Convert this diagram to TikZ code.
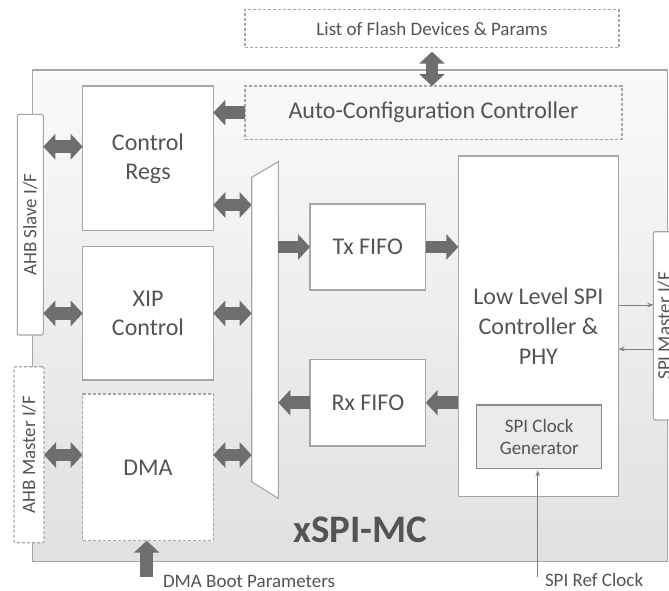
\documentclass[tikz,border=0pt]{standalone}
\usepackage{fontspec}
\setmainfont{Carlito}
\usetikzlibrary{arrows.meta,calc}
\definecolor{txt}{HTML}{545454}
\definecolor{edge}{HTML}{A6A6A6}
\definecolor{blkc}{HTML}{6E6E6E}
\definecolor{clkfill}{HTML}{EBEBEB}
\begin{document}
\begin{tikzpicture}[x=1pt,y=-1pt,
  every node/.style={inner sep=0pt, outer sep=0pt, text=txt},
  box/.style={draw=edge, fill=white, line width=1.1pt, minimum width=#1},
  dbox/.style={box=#1, dash pattern=on 3pt off 2pt},
  ifbox/.style={draw=edge, fill=white, line width=1.1pt, rounded corners=2pt, minimum width=#1},
  bigtxt/.style={font=\fontsize{24}{29}\selectfont, align=center},
  smalltxt/.style={font=\fontsize{19}{22}\selectfont, align=center},
  blk/.style={draw=blkc, line width=12.5pt, -{Triangle[length=12pt,width=25pt]}},
  dblk/.style={draw=blkc, line width=12.5pt, {Triangle[length=12pt,width=25pt]}-{Triangle[length=12pt,width=25pt]}},
  thin/.style={draw=blkc!90, line width=0.9pt, -{Stealth[length=6pt,width=4.5pt]}}]
\useasboundingbox (0,0) rectangle (669,590);
\clip (0,0) rectangle (669,590);
\fill[white] (0,0) rectangle (669,590);

% controller outline
\node[draw=edge, line width=1.1pt, top color=white!98!black, bottom color=white!88!black,
      minimum width=635.2, minimum height=491.7] (xspi) at (349.9,315.85) {};
\node[font=\fontsize{39}{42}\bfseries\selectfont] (xspilbl) at (360.5,530) {xSPI-MC};

% external parameter list and auto configuration
\node[dbox=374, minimum height=38.4, smalltxt] (list) at (432,28.5) {List of Flash Devices \& Params};
\node[draw=edge, line width=1.1pt, dash pattern=on 3pt off 2pt, minimum width=377, minimum height=53.3, bigtxt] (auto) at (433.5,112.65) {Auto-Configuration Controller};

% host side blocks
\node[box=130.6, minimum height=144.7, bigtxt] (ctrl) at (148,158.35) {Control\\Regs};
\node[box=130.6, minimum height=133.3, bigtxt] (xip) at (148,313.35) {XIP\\Control};
\node[dbox=130.6, minimum height=146.7, bigtxt] (dma) at (148,467.35) {DMA};

% AHB interfaces
\node[ifbox=26, minimum height=220.7] (slave) at (30.3,224.65) {};
\node[smalltxt, rotate=90] (slavelbl) at (slave.center) {AHB Slave I/F};
\node[ifbox=30, minimum height=176, dash pattern=on 3pt off 2pt] (master) at (29,454.7) {};
\node[smalltxt, rotate=90] (masterlbl) at (master.center) {AHB Master I/F};

% multiplexer
\node[minimum width=26.6, minimum height=336.6] (mux) at (265,330) {};
\draw[draw=edge, fill=white, line width=1.1pt] ([yshift=-15.6pt]mux.north west) -- (mux.north east)
  -- (mux.south east) -- ([yshift=16.6pt]mux.south west) -- cycle;

% FIFOs
\node[box=115.7, minimum height=86, bigtxt] (tx) at (367.85,247) {Tx FIFO};
\node[box=115.7, minimum height=86.7, bigtxt] (rx) at (367.85,402.65) {Rx FIFO};

% SPI controller
\node[box=160.2, minimum height=340.7] (ll) at (538.4,326.35) {};
\node[bigtxt, font=\fontsize{24}{30}\selectfont] (lllbl) at (ll.center) {Low Level SPI\\Controller \&\\PHY};
\node[draw=black!45, fill=clkfill, line width=1.1pt, minimum width=125, minimum height=63.3, smalltxt] (clk) at (539.2,436.65) {SPI Clock\\Generator};

% SPI master interface (runs off the right edge)
\node[ifbox=26.7, minimum height=188.3] (spim) at (666.65,325.85) {};
\node[smalltxt, rotate=90] (spimlbl) at (664.5,325.85) {SPI Master I/F};

% external inputs
\node[smalltxt, anchor=west] (boot) at (163,581.7) {DMA Boot Parameters};
\node[smalltxt, anchor=west] (refclk) at (545,580) {SPI Ref Clock};

% block arrows
\draw[dblk] ([yshift=-4pt]list.south) -- (list.south |- auto.north);
\draw[blk] (auto.west) -- (auto.west -| ctrl.east);

\coordinate (a1) at ([yshift=11.65pt]ctrl.west);
\draw[dblk] (a1 -| slave.east) -- (a1);
\coordinate (a2) at ([yshift=-46.65pt]ctrl.east);
\draw[dblk] (a2) -- (a2 -| mux.west);
\draw[dblk] (xip.west -| slave.east) -- (xip.west);
\draw[dblk] (xip.east) -- (xip.east -| mux.west);
\coordinate (a3) at ([yshift=12.35pt]dma.west);
\draw[dblk] (a3 -| master.east) -- (a3);
\coordinate (a4) at ([yshift=12.35pt]dma.east);
\draw[dblk] (a4) -- (a4 -| mux.west);

\draw[blk] (tx.west -| mux.east) -- (tx.west);
\draw[blk] (tx.east) -- (tx.east -| ll.west);
\draw[blk] (rx.east -| ll.west) -- (rx.east);
\draw[blk] (rx.west) -- (rx.west -| mux.east);

\coordinate (b1) at ([xshift=-1.3pt,yshift=5pt]boot.west -| dma.south);
\draw[blk] (b1) -- (b1 |- dma.south);

% thin signal arrows
\coordinate (s1) at ([yshift=21.35pt]ll.east);
\draw[thin] (s1) -- (s1 -| spim.west);
\coordinate (s2) at ([yshift=-22.65pt]ll.east);
\draw[thin] (s2 -| spim.west) -- (s2);
\coordinate (r1) at ([xshift=-1.5pt,yshift=3.3pt]refclk.west -| clk.south);
\draw[thin] (r1) -- ([yshift=-2pt]r1 |- clk.south);
\end{tikzpicture}
\end{document}
